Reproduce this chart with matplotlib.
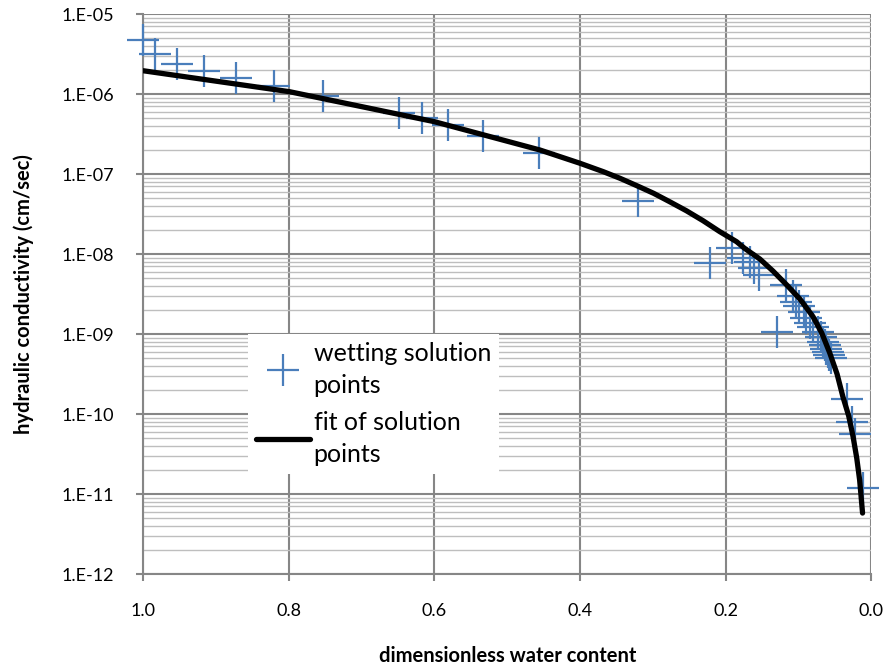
import numpy as np
import matplotlib
matplotlib.use("Agg")
import matplotlib.pyplot as plt
from matplotlib.ticker import FixedLocator, FuncFormatter

plt.rcParams['font.family'] = ['Lato', 'DejaVu Sans']

theta_pts = [1.000, 0.984, 0.953, 0.916, 0.873, 0.821, 0.753, 0.649, 0.617, 0.581,
             0.533, 0.457, 0.321, 0.222, 0.191, 0.176, 0.167, 0.161, 0.154, 0.129,
             0.117, 0.108, 0.103, 0.099, 0.093, 0.089, 0.084, 0.080, 0.073, 0.069,
             0.066, 0.063, 0.062, 0.059, 0.058, 0.056, 0.034, 0.026, 0.022, 0.012]
k_pts = [4.7e-6, 3.2e-6, 2.4e-6, 1.95e-6, 1.6e-6, 1.26e-6, 9.4e-7, 5.8e-7, 5.0e-7, 4.1e-7,
         3.0e-7, 1.85e-7, 4.6e-8, 7.7e-9, 1.19e-8, 8.9e-9, 7.9e-9, 6.7e-9, 5.5e-9, 1.06e-9,
         4.1e-9, 3.0e-9, 2.5e-9, 2.24e-9, 1.88e-9, 1.58e-9, 1.37e-9, 1.22e-9, 1.06e-9, 9.2e-10,
         7.9e-10, 7.3e-10, 6.5e-10, 6.0e-10, 5.5e-10, 5.0e-10, 1.54e-10, 7.9e-11, 5.6e-11, 1.19e-11]

# fitted curve, log10 of K
theta_fit = [1.000, 0.799, 0.600, 0.455, 0.400, 0.368, 0.345, 0.322, 0.299, 0.277,
             0.254, 0.231, 0.208, 0.185, 0.174, 0.153, 0.135, 0.116, 0.098, 0.080,
             0.068, 0.057, 0.047, 0.039, 0.031, 0.025, 0.020, 0.016, 0.012]
logk_fit = [-5.709, -5.971, -6.346, -6.700, -6.866, -6.971, -7.054, -7.146, -7.241, -7.346,
            -7.459, -7.584, -7.721, -7.846, -7.929, -8.063, -8.213, -8.388, -8.563, -8.784,
            -8.988, -9.238, -9.500, -9.784, -10.025, -10.284, -10.550, -10.825, -11.238]

xticks = [1.0, 0.8, 0.6, 0.4, 0.2, 0.0]
decades = list(range(-12, -4))

fig = plt.figure(figsize=(8.86, 6.68), dpi=100)
ax = fig.add_axes([0.1617, 0.1407, 0.8217, 0.8383])

ax.plot(theta_pts, k_pts, linestyle='none', marker='+', markersize=23,
        markeredgewidth=1.6, color='#4a7ebb', label='wetting solution\npoints',
        zorder=3, clip_on=False)
ax.plot(theta_fit, [10.0 ** v for v in logk_fit], color='black', lw=3.8,
        solid_capstyle='round', solid_joinstyle='round', label='fit of solution\npoints', zorder=4)

ax.set_yscale('log')
ax.set_xlim(1.0, 0.0)
ax.set_ylim(1e-12, 1e-5)
ax.xaxis.set_major_locator(FixedLocator(xticks))
ax.xaxis.set_major_formatter(FuncFormatter(lambda v, p: f"{v:.1f}"))
ax.yaxis.set_major_locator(FixedLocator([10.0 ** d for d in decades]))
ax.yaxis.set_major_formatter(FuncFormatter(lambda v, p: f"1.E-{-int(round(np.log10(v))):02d}"))
minors = [m * 10.0 ** d for d in decades[:-1] for m in range(2, 10)]
ax.yaxis.set_minor_locator(FixedLocator(minors))
ax.yaxis.set_minor_formatter(FuncFormatter(lambda v, p: ""))

ax.grid(True, which='major', color='#868686', lw=1.5, zorder=0)
ax.grid(True, which='minor', axis='y', color='#bebebe', lw=1.0, zorder=0)
ax.set_axisbelow(True)
for s in ['top', 'right']:
    ax.spines[s].set_visible(False)
for s in ['left', 'bottom']:
    ax.spines[s].set_color('#868686')
    ax.spines[s].set_linewidth(1.5)
ax.tick_params(which='major', direction='out', length=5, width=1.5, color='#868686',
               labelsize=13, labelcolor='black')
ax.tick_params(axis='y', which='major', pad=16)
ax.tick_params(axis='x', which='major', pad=16)
ax.tick_params(which='minor', length=0)

ax.set_xlabel('dimensionless water content', fontsize=14.5, fontweight='bold', labelpad=19)
ax.set_ylabel('hydraulic conductivity (cm/sec)', fontsize=14.5, fontweight='bold', labelpad=20)

leg = ax.legend(loc='upper left', bbox_to_anchor=(0.1442, 0.4286), borderaxespad=0,
                fontsize=18, frameon=True, fancybox=False, framealpha=1,
                facecolor='white', edgecolor='none', handlelength=2.16, handletextpad=0.16,
                labelspacing=0.55, borderpad=0.3)
for t in leg.get_texts():
    t.set_linespacing(1.5)

fig.savefig('out.png', dpi=100)
